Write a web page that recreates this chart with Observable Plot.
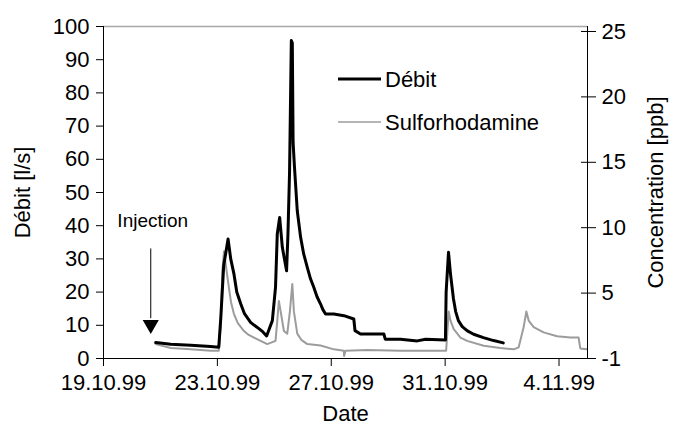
<!DOCTYPE html>
<html>
<head>
<meta charset="utf-8">
<script src="https://cdn.jsdelivr.net/npm/d3@7"></script>
<script src="https://cdn.jsdelivr.net/npm/@observablehq/plot@0.6"></script>
<style>
  html, body { margin: 0; padding: 0; background: #fff; }
  #chart { width: 693px; height: 432px; }
</style>
</head>
<body>
<div id="chart"></div>
<script>
// ---- Débit (l/s), left axis ----
const debitTime = [
  "1999-10-20T20:00Z","1999-10-21T08:40Z","1999-10-22T01:30Z","1999-10-22T18:20Z","1999-10-23T01:10Z",
  "1999-10-23T02:50Z","1999-10-23T05:20Z","1999-10-23T09:00Z","1999-10-23T11:15Z","1999-10-23T14:00Z",
  "1999-10-23T16:20Z","1999-10-23T19:40Z","1999-10-23T22:50Z","1999-10-24T04:00Z","1999-10-24T07:10Z",
  "1999-10-24T11:00Z","1999-10-24T14:25Z","1999-10-24T17:30Z","1999-10-24T22:20Z",
  "1999-10-25T01:00Z","1999-10-25T02:30Z","1999-10-25T04:30Z","1999-10-25T06:45Z","1999-10-25T10:20Z",
  "1999-10-25T11:30Z","1999-10-25T12:50Z","1999-10-25T14:20Z","1999-10-25T15:10Z","1999-10-25T15:50Z",
  "1999-10-25T17:00Z","1999-10-25T19:20Z","1999-10-25T22:10Z","1999-10-26T00:45Z","1999-10-26T03:50Z",
  "1999-10-26T06:30Z","1999-10-26T09:20Z","1999-10-26T12:00Z","1999-10-26T15:00Z","1999-10-26T16:50Z",
  "1999-10-26T19:10Z","1999-10-27T02:10Z","1999-10-27T10:40Z","1999-10-27T19:00Z",
  "1999-10-27T20:00Z","1999-10-28T00:40Z","1999-10-28T20:20Z","1999-10-28T21:30Z","1999-10-29T10:20Z",
  "1999-10-30T00:30Z","1999-10-30T07:30Z","1999-10-31T00:15Z","1999-10-31T00:50Z","1999-10-31T02:50Z",
  "1999-10-31T04:30Z","1999-10-31T07:00Z","1999-10-31T08:50Z","1999-10-31T11:10Z","1999-10-31T14:25Z",
  "1999-10-31T18:45Z","1999-11-01T00:00Z","1999-11-01T08:15Z","1999-11-01T16:50Z","1999-11-02T01:00Z"
];
const debitValue = [
  4.8, 4.3, 4.0, 3.6, 3.4,
  12, 28, 36, 30, 25.4,
  20, 16.5, 13.5, 10.9, 10,
  9.0, 8.0, 6.8, 11.4,
  21.4, 37.6, 42.5, 33.5, 26.4,
  37.6, 56, 95.8, 95, 65,
  57.6, 44.5, 36.5, 31.5, 27.4,
  24, 21.4, 18.6, 16.4, 14.8,
  13.4, 13.4, 12.9, 11.9,
  8.4, 7.4, 7.4, 5.8, 5.8,
  5.3, 5.8, 5.6, 20, 32,
  25.5, 18, 14.2, 11.4, 9.6,
  8.3, 7.3, 6.3, 5.4, 4.7
];

// ---- Sulforhodamine concentration (ppb), right axis ----
const concTime = [
  "1999-10-20T20:00Z","1999-10-21T08:40Z","1999-10-22T01:30Z","1999-10-22T18:20Z","1999-10-23T01:10Z",
  "1999-10-23T02:50Z","1999-10-23T04:10Z","1999-10-23T05:35Z","1999-10-23T07:00Z","1999-10-23T09:45Z",
  "1999-10-23T11:30Z","1999-10-23T14:00Z","1999-10-23T17:15Z","1999-10-23T22:25Z","1999-10-24T02:25Z",
  "1999-10-24T06:50Z","1999-10-24T18:05Z","1999-10-25T01:00Z",
  "1999-10-25T02:30Z","1999-10-25T03:50Z","1999-10-25T05:20Z","1999-10-25T08:05Z","1999-10-25T10:55Z",
  "1999-10-25T13:08Z","1999-10-25T15:10Z","1999-10-25T16:30Z","1999-10-25T19:20Z","1999-10-25T23:00Z",
  "1999-10-26T03:50Z","1999-10-26T15:00Z","1999-10-27T02:10Z","1999-10-27T10:36Z","1999-10-27T10:50Z",
  "1999-10-27T12:00Z","1999-10-28T06:20Z","1999-10-29T10:20Z","1999-10-31T00:50Z","1999-10-31T03:00Z",
  "1999-10-31T04:30Z","1999-10-31T07:15Z","1999-10-31T12:53Z","1999-10-31T18:32Z","1999-11-01T08:30Z",
  "1999-11-01T22:34Z","1999-11-02T09:46Z","1999-11-02T13:58Z","1999-11-02T18:11Z","1999-11-02T20:28Z",
  "1999-11-02T22:24Z","1999-11-03T02:37Z","1999-11-03T11:02Z","1999-11-03T22:19Z","1999-11-04T09:30Z",
  "1999-11-04T16:30Z","1999-11-04T17:55Z","1999-11-04T23:34Z"
];
const concValue = [
  1.1, 0.8, 0.7, 0.6, 0.6,
  2.5, 6.7, 8.2, 7.2, 5.4,
  4.3, 3.4, 2.7, 2.1, 1.8,
  1.6, 1.1, 1.35,
  2.9, 4.4, 3.6, 2.1, 1.9,
  3.6, 5.7, 3.6, 1.9, 1.4,
  1.1, 1.0, 0.7, 0.6, 0.2,
  0.6, 0.65, 0.6, 0.6, 3.6,
  2.9, 2.25, 1.6, 1.35, 0.97,
  0.8, 0.7, 0.85, 2.4, 3.6,
  2.9, 2.4, 2.0, 1.7, 1.6,
  1.6, 0.77, 0.7
];

// ---- axes ----
const dateTicks = ["1999-10-19","1999-10-23","1999-10-27","1999-10-31","1999-11-04"];
const dateDomain = ["1999-10-19", "1999-11-05"];
const debitTicks = [0, 10, 20, 30, 40, 50, 60, 70, 80, 90, 100];
const concTicks = [0, 5, 10, 15, 20, 25];
const concTickLabels = ["-1", "5", "10", "15", "20", "25"];
const concMax = 25;            // value at the top tick of the right axis
const concMaxOnDebit = 98.5;   // where that top tick sits on the left (Débit) scale

const injectionTime = "1999-10-20T15:50Z";
const seriesNames = ["Débit", "Sulforhodamine"];

// ---- build ----
const parse = s => d3.isoParse(s.length === 10 ? s + "T00:00Z" : s);
const k = concMaxOnDebit / concMax;
const debit = debitTime.map((t, i) => ({t: parse(t), v: debitValue[i]}));
const conc = concTime.map((t, i) => ({t: parse(t), v: concValue[i] * k}));
const concPos = concTicks.map(v => v * k);
const concLabel = new Map(concPos.map((p, i) => [p, concTickLabels[i]]));
const xDomain = dateDomain.map(parse);
const fmt = d3.utcFormat("%-d.%m.%y");
const font = "'Liberation Sans', Arial, sans-serif";
const inj = parse(injectionTime);
const FS = 22;

const svg = Plot.plot({
  width: 693,
  height: 432,
  marginLeft: 103,
  marginRight: 106,
  marginTop: 26,
  marginBottom: 74,
  style: {fontFamily: font, fontSize: FS + "px", background: "#fff", color: "#000", overflow: "visible"},
  x: {type: "utc", domain: xDomain},
  y: {domain: [0, 100]},
  marks: [
    Plot.ruleY([100], {stroke: "#a6a6a6", strokeWidth: 1.5}),
    Plot.line(conc, {x: "t", y: "v", stroke: "#9c9c9c", strokeWidth: 2, strokeLinejoin: "round"}),
    Plot.line(debit, {x: "t", y: "v", stroke: "#000", strokeWidth: 3, strokeLinejoin: "round"}),
    Plot.ruleY([0], {stroke: "#000", strokeWidth: 1}),
    Plot.ruleX([xDomain[0], xDomain[1]], {stroke: "#000", strokeWidth: 1}),
    Plot.axisX(dateTicks.map(parse), {tickFormat: fmt, tickSize: 8, tickPadding: 8, label: null, fontSize: FS}),
    Plot.axisY(debitTicks, {anchor: "left", tickSize: 7, tickPadding: 7, label: null, fontSize: FS}),
    Plot.axisY(concPos, {anchor: "right", tickSize: 8, tickPadding: 6, tickFormat: d => concLabel.get(d), label: null, fontSize: FS}),
    Plot.axisY(concPos, {anchor: "right", tickSize: -7, tickFormat: () => "", label: null}),
    // injection arrow
    Plot.ruleX([inj], {y1: 33, y2: 12, stroke: "#000", strokeWidth: 1}),
    Plot.dot([inj], {x: d => d, y: 10.2, symbol: "triangle", r: 6, rotate: 180, fill: "#000", stroke: null}),
    Plot.text(["Injection"], {x: inj, y: 41.5, text: d => d, fontSize: 19, dx: 2}),
    // axis titles
    Plot.text(["Débit [l/s]"], {frameAnchor: "left", textAnchor: "middle", dx: -81, rotate: -90, text: d => d, fontSize: FS}),
    Plot.text(["Concentration [ppb]"], {frameAnchor: "right", textAnchor: "middle", dx: 68, rotate: -90, text: d => d, fontSize: FS}),
    Plot.text(["Date"], {frameAnchor: "bottom", dy: 62, text: d => d, fontSize: FS})
  ]
});

// legend
const g = d3.select(svg).append("g").attr("font-family", font).attr("font-size", FS).attr("text-anchor", "start");
const legendRows = [
  {name: seriesNames[0], stroke: "#000", w: 3},
  {name: seriesNames[1], stroke: "#9c9c9c", w: 1.5}
];
legendRows.forEach((r, i) => {
  const y = 79 + i * 43;
  g.append("line").attr("x1", 338).attr("x2", 381).attr("y1", y).attr("y2", y)
    .attr("stroke", r.stroke).attr("stroke-width", r.w);
  g.append("text").attr("x", 385).attr("y", y).attr("dy", "0.35em").attr("fill", "#000").text(r.name);
});

document.getElementById("chart").appendChild(svg);
</script>
</body>
</html>
